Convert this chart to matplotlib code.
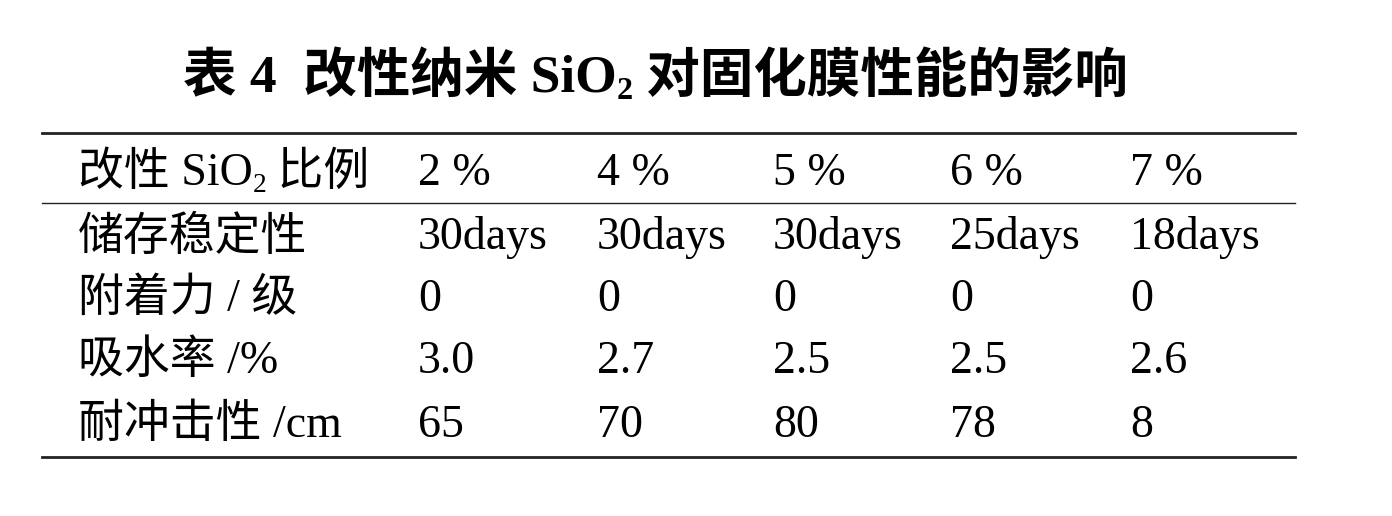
import matplotlib
matplotlib.use("Agg")
import matplotlib.pyplot as plt
from matplotlib.lines import Line2D

W, H = 1392, 516
FAM = ["Liberation Serif", "Noto Sans CJK SC"]

title_parts = [("表 4  改性纳米 SiO", False), ("2", True), (" 对固化膜性能的影响", False)]
header = ["2 %", "4 %", "5 %", "6 %", "7 %"]
row_labels = ["储存稳定性", "附着力 / 级", "吸水率 /%", "耐冲击性 /cm"]
storage = ["30days", "30days", "30days", "25days", "18days"]
adhesion = ["0", "0", "0", "0", "0"]
water = ["3.0", "2.7", "2.5", "2.5", "2.6"]
impact = ["65", "70", "80", "78", "8"]
rows = [storage, adhesion, water, impact]

col_x = [78, 418, 597, 773, 950, 1130]
row_y = [174, 238, 300, 362, 426]

fig = plt.figure(figsize=(W / 100, H / 100), dpi=100)
fig.patch.set_facecolor("white")
r = fig.canvas.get_renderer()


def put(x, y, s, size=33, weight="normal", sub=False):
    t = fig.text(x / W, 1 - (y + (size * 0.35 if sub else 0)) / H, s,
                 fontsize=size * (0.6 if sub else 1), family=FAM,
                 weight=weight, va="center", ha="left")
    return t.get_window_extent(r).x1


def put_parts(x, y, parts, size=33, weight="normal"):
    for s, sub in parts:
        x = put(x, y, s, size, weight, sub)
    return x


put_parts(183, 78, title_parts, size=38.5, weight="bold")

put_parts(col_x[0], row_y[0], [("改性 SiO", False), ("2", True), (" 比例", False)])
for j, h in enumerate(header):
    put(col_x[j + 1], row_y[0], h)
for i, (lab, vals) in enumerate(zip(row_labels, rows)):
    put(col_x[0], row_y[i + 1], lab)
    for j, v in enumerate(vals):
        put(col_x[j + 1], row_y[i + 1], v)

for y, lw in [(133, 2.0), (203, 1.0), (457, 2.0)]:
    fig.add_artist(Line2D([42 / W, 1295 / W], [1 - y / H] * 2, color="#222222", lw=lw))

fig.savefig("out.png", dpi=100, facecolor="white")
